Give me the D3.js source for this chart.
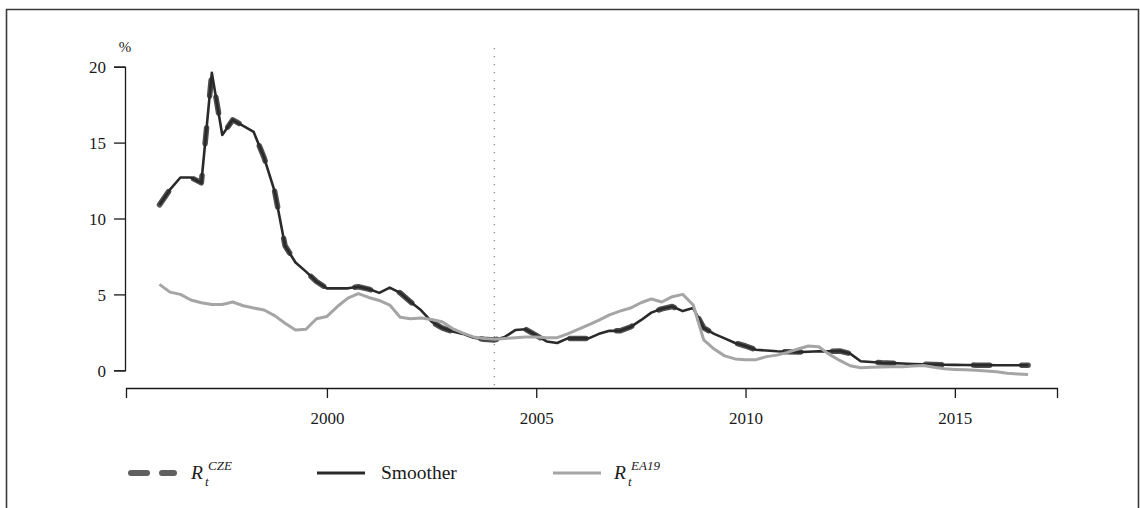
<!DOCTYPE html>
<html>
<head>
<meta charset="utf-8">
<script src="https://cdn.jsdelivr.net/npm/d3@7"></script>
<style>
  html, body { margin: 0; padding: 0; background: #fff; }
  svg { display: block; }
  text { font-family: "Liberation Serif", "Times New Roman", serif; fill: #1a1a1a; }
</style>
</head>
<body>
<svg id="chart" width="1140" height="508"></svg>
<script>
// ---- data (quarterly, 1996Q1 .. 2016Q4) ----
const startYear = 1996;
const czeValues = [
  10.9, 11.9, 12.7, 12.7,
  12.35, 19.6, 15.5, 16.5,
  16.1, 15.7, 14.0, 11.8,
  8.2, 7.1, 6.5, 5.85,
  5.4, 5.4, 5.4, 5.5,
  5.35, 5.1, 5.45, 5.1,
  4.5, 3.95, 3.2, 2.8,
  2.55, 2.4, 2.15, 2.05,
  2.0, 2.2, 2.65, 2.7,
  2.3, 1.9, 1.8, 2.1,
  2.1, 2.1, 2.4, 2.6,
  2.6, 2.85, 3.3, 3.8,
  4.05, 4.2, 3.9, 4.1,
  2.8, 2.4, 2.1, 1.8,
  1.6, 1.35, 1.3, 1.25,
  1.22, 1.2, 1.22, 1.25,
  1.25, 1.27, 1.1, 0.6,
  0.55, 0.5, 0.47, 0.45,
  0.42, 0.4, 0.38, 0.37,
  0.36, 0.35, 0.34, 0.34,
  0.33, 0.33, 0.33, 0.33
];
const smootherValues = [
  10.9, 11.9, 12.7, 12.7,
  12.35, 19.6, 15.5, 16.5,
  16.1, 15.7, 14.0, 11.8,
  8.2, 7.1, 6.5, 5.85,
  5.4, 5.4, 5.4, 5.5,
  5.35, 5.1, 5.45, 5.1,
  4.5, 3.95, 3.2, 2.8,
  2.55, 2.4, 2.15, 2.05,
  2.0, 2.2, 2.65, 2.7,
  2.3, 1.9, 1.8, 2.1,
  2.1, 2.1, 2.4, 2.6,
  2.6, 2.85, 3.3, 3.8,
  4.05, 4.2, 3.9, 4.1,
  2.8, 2.4, 2.1, 1.8,
  1.6, 1.35, 1.3, 1.25,
  1.22, 1.2, 1.22, 1.25,
  1.25, 1.27, 1.1, 0.6,
  0.55, 0.5, 0.47, 0.45,
  0.42, 0.4, 0.38, 0.37,
  0.36, 0.35, 0.34, 0.34,
  0.33, 0.33, 0.33, 0.33
];
const ea19Values = [
  5.66, 5.15, 5.0, 4.63,
  4.45, 4.34, 4.34, 4.5,
  4.25, 4.1, 3.97, 3.6,
  3.1, 2.65, 2.7, 3.4,
  3.55, 4.2, 4.75, 5.05,
  4.8, 4.6, 4.3, 3.5,
  3.4, 3.45, 3.35, 3.2,
  2.75, 2.45, 2.2, 2.1,
  2.05, 2.1, 2.15, 2.2,
  2.2, 2.15, 2.15, 2.4,
  2.7, 3.0, 3.3, 3.65,
  3.9, 4.1, 4.45, 4.7,
  4.5, 4.85, 5.0, 4.3,
  2.0, 1.4, 0.95, 0.75,
  0.7, 0.7, 0.9, 1.0,
  1.18, 1.4, 1.6, 1.55,
  1.05, 0.65, 0.3, 0.17,
  0.2, 0.22, 0.23, 0.24,
  0.28, 0.32, 0.2, 0.1,
  0.06, 0.03, 0.0, -0.05,
  -0.1, -0.2, -0.24, -0.27
];
const xTicks = [2000, 2005, 2010, 2015];
const yTicks = [0, 5, 10, 15, 20];
const breakYear = 2004;
const legendItems = ["CZE", "Smoother", "EA19"];

// ---- drawing ----
const svg = d3.select("#chart");
const x = d3.scaleLinear().domain([1995.2, 2017.44]).range([126, 1057]);
const y = d3.scaleLinear().domain([0, 20]).range([370.3, 66.7]);

const toPts = arr => arr.map((v, i) => ({ t: startYear + i * 0.25, v }));
const line = d3.line().x(d => x(d.t)).y(d => y(d.v));

// frame
svg.append("path")
  .attr("d", "M6.5,512 L6.5,9.5 L1138.5,9.5 L1138.5,512")
  .attr("fill", "none").attr("stroke", "#3a3a3a").attr("stroke-width", 1.6);

// axes
const yAxis = svg.append("g").attr("transform", "translate(125,0)")
  .call(d3.axisLeft(y).tickValues(yTicks).tickSizeOuter(0).tickSize(11).tickPadding(8));
const xAxis = svg.append("g").attr("transform", "translate(0,388)")
  .call(d3.axisBottom(x).tickValues(xTicks).tickFormat(d3.format("d")).tickSizeOuter(0).tickSize(10).tickPadding(24));
[yAxis, xAxis].forEach(g => {
  g.select(".domain").attr("stroke", "#1a1a1a").attr("stroke-width", 1.3);
  g.selectAll(".tick line").attr("stroke", "#1a1a1a").attr("stroke-width", 1.3);
  g.selectAll(".tick text").attr("font-family", "Liberation Serif").attr("font-size", 17).attr("fill", "#1a1a1a");
});
yAxis.selectAll(".tick text").attr("dy", "0.35em");
xAxis.selectAll(".tick text").attr("dy", "0.1em");

svg.append("text").attr("x", 125).attr("y", 52).attr("text-anchor", "middle")
  .attr("font-size", 15).text("%");

// vertical dotted line
svg.append("line")
  .attr("x1", x(breakYear)).attr("x2", x(breakYear))
  .attr("y1", 48).attr("y2", 388)
  .attr("stroke", "#8a8a8a").attr("stroke-width", 1.3)
  .attr("stroke-dasharray", "1.3,6.7");

// series
svg.append("path").datum(toPts(czeValues)).attr("d", line)
  .attr("fill", "none").attr("stroke", "#505050").attr("stroke-width", 5.5)
  .attr("stroke-linecap", "round").attr("stroke-linejoin", "round")
  .attr("stroke-dasharray", "16,32");
svg.append("path").datum(toPts(smootherValues)).attr("d", line)
  .attr("fill", "none").attr("stroke", "#2a2a2a").attr("stroke-width", 2.6)
  .attr("stroke-linejoin", "round");
svg.append("path").datum(toPts(ea19Values)).attr("d", line)
  .attr("fill", "none").attr("stroke", "#a5a5a5").attr("stroke-width", 3)
  .attr("stroke-linejoin", "round");

// legend
const ly = 473;
const lg = svg.append("g");
// CZE
lg.append("line").attr("x1", 131).attr("x2", 174).attr("y1", ly).attr("y2", ly)
  .attr("stroke", "#606060").attr("stroke-width", 6).attr("stroke-linecap", "round")
  .attr("stroke-dasharray", "16,15");
function rLabel(x0, sup) {
  lg.append("text").attr("x", x0).attr("y", 479).attr("font-size", 19.5)
    .attr("font-style", "italic").text("R");
  lg.append("text").attr("x", x0 + 14).attr("y", 486).attr("font-size", 13)
    .attr("font-style", "italic").text("t");
  lg.append("text").attr("x", x0 + 17).attr("y", 470).attr("font-size", 13)
    .attr("font-style", "italic").text(sup);
}
rLabel(191, legendItems[0]);
// Smoother
lg.append("line").attr("x1", 317).attr("x2", 365).attr("y1", ly).attr("y2", ly)
  .attr("stroke", "#2a2a2a").attr("stroke-width", 3);
lg.append("text").attr("x", 381).attr("y", 479).attr("font-size", 19.5).text(legendItems[1]);
// EA19
lg.append("line").attr("x1", 553).attr("x2", 601).attr("y1", ly).attr("y2", ly)
  .attr("stroke", "#a5a5a5").attr("stroke-width", 3);
rLabel(614, legendItems[2]);
</script>
</body>
</html>
